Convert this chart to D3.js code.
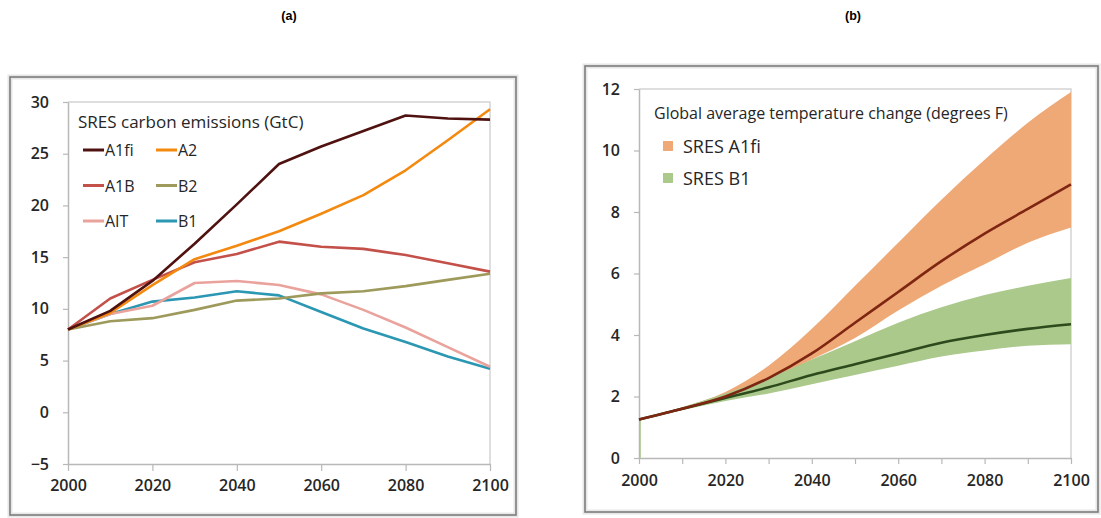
<!DOCTYPE html>
<html lang="en">
<head>
  <meta charset="UTF-8" />
  <title>SRES emissions and temperature</title>
  <script src="https://cdn.jsdelivr.net/npm/d3@7"></script>
  <style>
    body {
      margin: 0;
      background: #fff;
    }
    svg text {
      font-family: "Open Sans", Lato, sans-serif;
    }
  </style>
</head>
<body>
  <svg id="chart" width="1101" height="518"></svg>

  <script>
    // panel (a): SRES carbon emissions, GtC
    const years = [2000, 2010, 2020, 2030, 2040, 2050, 2060, 2070, 2080, 2090, 2100];
    const emissionNames = ["A1fi", "A2", "A1B", "B2", "AIT", "B1"];
    const emissionColors = ["#4f1210", "#f4890f", "#c4504a", "#9d9a5c", "#eaa29c", "#2b97b3"];
    const a1fiEmis = [8, 9.8, 12.7, 16.3, 20.1, 24, 25.7, 27.2, 28.7, 28.4, 28.3];
    const a2Emis   = [8, 9.6, 12.3, 14.8, 16.1, 17.5, 19.2, 21, 23.4, 26.3, 29.3];
    const a1bEmis  = [8, 11, 12.8, 14.5, 15.3, 16.5, 16, 15.8, 15.2, 14.4, 13.6];
    const b2Emis   = [8, 8.8, 9.1, 9.9, 10.8, 11, 11.5, 11.7, 12.2, 12.8, 13.4];
    const aitEmis  = [8, 9.5, 10.3, 12.5, 12.7, 12.3, 11.4, 9.9, 8.2, 6.3, 4.4];
    const b1Emis   = [8, 9.5, 10.7, 11.1, 11.7, 11.3, 9.7, 8.1, 6.8, 5.4, 4.2];
    const emissionSeries = [a1fiEmis, a2Emis, a1bEmis, b2Emis, aitEmis, b1Emis];
    const emisTicks = [30, 25, 20, 15, 10, 5, 0, -5];
    const yearTicks = [2000, 2020, 2040, 2060, 2080, 2100];

    // panel (b): global average temperature change, degrees F
    const a1fiMid   = [1.25, 1.6, 2.0, 2.6, 3.4, 4.4, 5.4, 6.4, 7.3, 8.1, 8.9];
    const a1fiHigh  = [1.25, 1.65, 2.15, 3.0, 4.2, 5.6, 7.0, 8.4, 9.7, 10.9, 11.9];
    const a1fiLow   = [1.25, 1.6, 1.95, 2.5, 3.2, 3.9, 4.8, 5.6, 6.3, 7.0, 7.5];
    const b1Mid     = [1.25, 1.6, 1.95, 2.3, 2.7, 3.05, 3.4, 3.75, 4.0, 4.2, 4.35];
    const b1High    = [1.25, 1.65, 2.1, 2.6, 3.2, 3.8, 4.4, 4.9, 5.3, 5.6, 5.85];
    const b1Low     = [1.25, 1.55, 1.85, 2.1, 2.4, 2.7, 3.0, 3.3, 3.5, 3.65, 3.7];
    const tempTicks = [0, 2, 4, 6, 8, 10, 12];
    const tempLegend = ["SRES A1fi", "SRES B1"];

    const svg = d3.select("#chart");

    // panel titles
    svg.append("text").attr("x", 289).attr("y", 20).attr("text-anchor", "middle")
      .style("font-family", "Arial, 'Liberation Sans', sans-serif")
      .style("font-size", "12.5px").style("font-weight", "bold").text("(a)");
    svg.append("text").attr("x", 853).attr("y", 20).attr("text-anchor", "middle")
      .style("font-family", "Arial, 'Liberation Sans', sans-serif")
      .style("font-size", "12.5px").style("font-weight", "bold").text("(b)");

    function frame(x0, y0, x1, y1) {
      svg.append("rect")
        .attr("x", x0).attr("y", y0)
        .attr("width", x1 - x0).attr("height", y1 - y0)
        .attr("fill", "none")
        .attr("stroke", "#e6e6e6").attr("stroke-width", 5);
      svg.append("rect")
        .attr("x", x0).attr("y", y0)
        .attr("width", x1 - x0).attr("height", y1 - y0)
        .attr("fill", "none")
        .attr("stroke", "#7d7d7d").attr("stroke-width", 1.6);
    }

    function styleAxis(g) {
      g.select(".domain").attr("stroke", "#b8b8b8").attr("stroke-width", 1.5);
      g.selectAll(".tick line").attr("stroke", "#b8b8b8").attr("stroke-width", 1.2);
      g.selectAll(".tick text")
        .attr("fill", "#262626")
        .style("font-size", "16px")
        .style("font-weight", "600");
    }

    // ---------- panel (a) ----------
    frame(10, 77, 516, 515);

    const xa = d3.scaleLinear().domain([2000, 2100]).range([68, 490]);
    const ya = d3.scaleLinear().domain([-5, 30]).range([464, 102]);

    // plot area border (top and right)
    svg.append("path")
      .attr("d", `M${xa(2000)},${ya(30)}H${xa(2100)}V${ya(-5)}`)
      .attr("fill", "none").attr("stroke", "#d4d4d4").attr("stroke-width", 1.5);

    const xAxisA = svg.append("g")
      .attr("transform", `translate(0,${ya(-5)})`)
      .call(d3.axisBottom(xa).tickValues(yearTicks).tickFormat(d3.format("d"))
        .tickSizeInner(7).tickSizeOuter(0).tickPadding(9));
    styleAxis(xAxisA);

    const yAxisA = svg.append("g")
      .attr("transform", `translate(${xa(2000)},0)`)
      .call(d3.axisLeft(ya).tickValues(emisTicks)
        .tickSizeInner(5).tickSizeOuter(0).tickPadding(14));
    styleAxis(yAxisA);

    const lineA = d3.line()
      .x((d, i) => xa(years[i]))
      .y(d => ya(d));

    // draw back to front so the first series ends up on top
    for (let k = emissionSeries.length - 1; k >= 0; k--) {
      svg.append("path")
        .datum(emissionSeries[k])
        .attr("d", lineA)
        .attr("fill", "none")
        .attr("stroke", emissionColors[k])
        .attr("stroke-width", 2.6)
        .attr("stroke-linejoin", "round");
    }

    svg.append("text")
      .attr("x", 78).attr("y", 128)
      .attr("fill", "#262626")
      .style("font-size", "17px")
      .text("SRES carbon emissions (GtC)");

    const legA = svg.append("g").selectAll("g")
      .data(emissionNames)
      .join("g")
      .attr("transform", (d, i) => `translate(83,${150 + Math.floor(i / 2) * 35.5})`);
    legA.append("line")
      .attr("x1", (d, i) => (i % 2) * 73).attr("x2", (d, i) => (i % 2) * 73 + 21)
      .attr("stroke", (d, i) => emissionColors[i])
      .attr("stroke-width", 3);
    legA.append("text")
      .attr("x", (d, i) => (i % 2) * 73 + 22).attr("y", 6)
      .attr("fill", "#262626")
      .style("font-size", "16px")
      .text(d => d);

    // ---------- panel (b) ----------
    frame(585, 66, 1098, 512);

    const xb = d3.scaleLinear().domain([2000, 2100]).range([639, 1071]);
    const yb = d3.scaleLinear().domain([0, 12]).range([458, 89]);

    svg.append("path")
      .attr("d", `M${xb(2000)},${yb(12)}H${xb(2100)}V${yb(0)}`)
      .attr("fill", "none").attr("stroke", "#d4d4d4").attr("stroke-width", 1.5);

    const xAxisB = svg.append("g")
      .attr("transform", `translate(0,${yb(0)})`)
      .call(d3.axisBottom(xb).tickValues(years).tickFormat(d => d % 20 === 0 ? d : "")
        .tickSizeInner(6).tickSizeOuter(0).tickPadding(11));
    styleAxis(xAxisB);

    const yAxisB = svg.append("g")
      .attr("transform", `translate(${xb(2000)},0)`)
      .call(d3.axisLeft(yb).tickValues(tempTicks)
        .tickSizeInner(5).tickSizeOuter(0).tickPadding(14));
    styleAxis(yAxisB);

    const band = (low, high) => d3.area()
      .curve(d3.curveMonotoneX)
      .x((d, i) => xb(years[i]))
      .y0((d, i) => yb(low[i]))
      .y1((d, i) => yb(high[i]))(years);

    const midLine = d3.line()
      .curve(d3.curveMonotoneX)
      .x((d, i) => xb(years[i]))
      .y(d => yb(d));

    // small vertical sliver at 2000 seen in the original
    svg.append("line")
      .attr("x1", xb(2000) + 1).attr("x2", xb(2000) + 1)
      .attr("y1", yb(0)).attr("y2", yb(1.25))
      .attr("stroke", "#a9c68a").attr("stroke-width", 1.5);

    svg.append("path").attr("d", band(a1fiLow, a1fiHigh)).attr("fill", "#efa977");
    svg.append("path").attr("d", band(b1Low, b1High)).attr("fill", "#aac98b");

    svg.append("path").datum(b1Mid).attr("d", midLine)
      .attr("fill", "none").attr("stroke", "#2c4a1c").attr("stroke-width", 2.6);
    svg.append("path").datum(a1fiMid).attr("d", midLine)
      .attr("fill", "none").attr("stroke", "#7e2612").attr("stroke-width", 2.6);

    svg.append("text")
      .attr("x", 654).attr("y", 119)
      .attr("fill", "#262626")
      .style("font-size", "16px")
      .text("Global average temperature change (degrees F)");

    const legB = svg.append("g").selectAll("g")
      .data(tempLegend)
      .join("g")
      .attr("transform", (d, i) => `translate(663,${141 + i * 32})`);
    legB.append("rect")
      .attr("width", 10).attr("height", 10)
      .attr("fill", (d, i) => i === 0 ? "#efa977" : "#aac98b");
    legB.append("text")
      .attr("x", 20).attr("y", 12)
      .attr("fill", "#262626")
      .style("font-size", "18px")
      .text(d => d);
  </script>
</body>
</html>
